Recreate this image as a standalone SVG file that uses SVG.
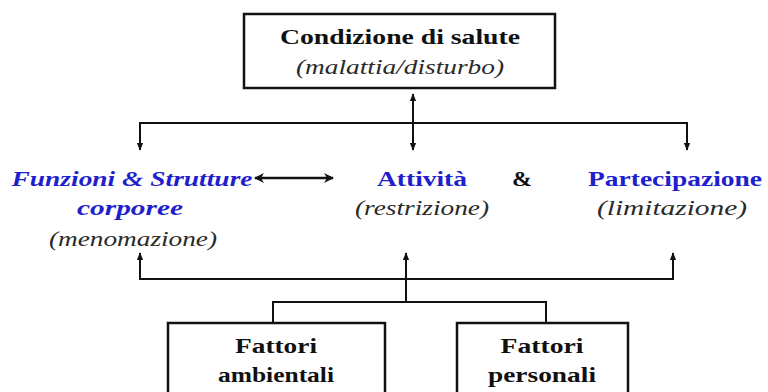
<svg xmlns="http://www.w3.org/2000/svg" width="768" height="392" viewBox="0 0 768 392">
<defs>
<style>
.box{fill:#fff;stroke:#111;stroke-width:2.5}
.ln{fill:none;stroke:#111;stroke-width:2}
text{text-anchor:middle;font-size:22px}
.b{font-weight:bold;fill:#111}
.i{font-style:italic;fill:#2a2a2a}
.blue{fill:#1f1fcc;font-weight:bold}
</style>
<marker id="ah" viewBox="0 0 10 10" refX="9" refY="5" markerWidth="4" markerHeight="4" orient="auto-start-reverse" markerUnits="strokeWidth">
<path d="M0,1 L10,5 L0,9 Z" fill="#111"/>
</marker>
<marker id="ah2" viewBox="0 0 10 10" refX="9" refY="5" markerWidth="5" markerHeight="4" orient="auto-start-reverse" markerUnits="strokeWidth">
<path d="M0,0 L10,5 L0,10 L3,5 Z" fill="#111"/>
</marker>
</defs>
<rect width="768" height="392" fill="#fff"/>
<g id="connectors">
<line class="ln" x1="413" y1="123" x2="413" y2="94" marker-end="url(#ah)"/>
<line class="ln" x1="413" y1="123" x2="413" y2="150" marker-end="url(#ah)"/>
<polyline class="ln" points="140,123 687,123"/>
<line class="ln" x1="140" y1="122" x2="140" y2="150" marker-end="url(#ah)"/>
<line class="ln" x1="687" y1="122" x2="687" y2="150" marker-end="url(#ah)"/>
<line x1="255" y1="178" x2="333" y2="178" stroke="#111" stroke-width="2.5" marker-start="url(#ah2)" marker-end="url(#ah2)"/>
<polyline class="ln" points="140,279 673,279"/>
<line class="ln" x1="140" y1="280" x2="140" y2="253" marker-end="url(#ah)"/>
<line class="ln" x1="673" y1="280" x2="673" y2="253" marker-end="url(#ah)"/>
<line class="ln" x1="406" y1="302" x2="406" y2="253" marker-end="url(#ah)"/>
<polyline class="ln" points="273,323 273,302 546,302 546,323"/>
</g>
<g id="condizione">
<rect class="box" x="244" y="14" width="311" height="74"/>
<text class="b" font-family="Liberation Serif" x="400" y="44" textLength="240" lengthAdjust="spacingAndGlyphs">Condizione di salute</text>
<text class="i" font-family="Liberation Serif" x="400" y="74" textLength="208" lengthAdjust="spacingAndGlyphs">(malattia/disturbo)</text>
</g>
<g id="funzioni">
<text class="blue" font-family="Liberation Serif" font-style="italic" x="132" y="186" textLength="241" lengthAdjust="spacingAndGlyphs">Funzioni &amp; Strutture</text>
<text class="blue" font-family="Liberation Serif" font-style="italic" x="130" y="215" textLength="106" lengthAdjust="spacingAndGlyphs">corporee</text>
<text class="i" font-family="Liberation Serif" x="133" y="246" textLength="168" lengthAdjust="spacingAndGlyphs">(menomazione)</text>
</g>
<g id="attivita">
<text class="blue" font-family="Liberation Serif" x="422" y="186" textLength="90" lengthAdjust="spacingAndGlyphs">Attività</text>
<text class="i" font-family="Liberation Serif" x="422" y="215" textLength="134" lengthAdjust="spacingAndGlyphs">(restrizione)</text>
</g>
<g id="and">
<text class="b" font-family="Liberation Serif" x="522" y="186" textLength="20" lengthAdjust="spacingAndGlyphs">&amp;</text>
</g>
<g id="partecipazione">
<text class="blue" font-family="Liberation Serif" x="675" y="186" textLength="174" lengthAdjust="spacingAndGlyphs">Partecipazione</text>
<text class="i" font-family="Liberation Serif" x="672" y="215" textLength="150" lengthAdjust="spacingAndGlyphs">(limitazione)</text>
</g>
<g id="ambientali">
<rect class="box" x="168" y="323" width="217" height="80"/>
<text class="b" font-family="Liberation Serif" x="276" y="353" textLength="82" lengthAdjust="spacingAndGlyphs">Fattori</text>
<text class="b" font-family="Liberation Serif" x="276" y="382" textLength="116" lengthAdjust="spacingAndGlyphs">ambientali</text>
</g>
<g id="personali">
<rect class="box" x="457" y="323" width="171" height="80"/>
<text class="b" font-family="Liberation Serif" x="542" y="353" textLength="83" lengthAdjust="spacingAndGlyphs">Fattori</text>
<text class="b" font-family="Liberation Serif" x="542" y="382" textLength="108" lengthAdjust="spacingAndGlyphs">personali</text>
</g>
</svg>
